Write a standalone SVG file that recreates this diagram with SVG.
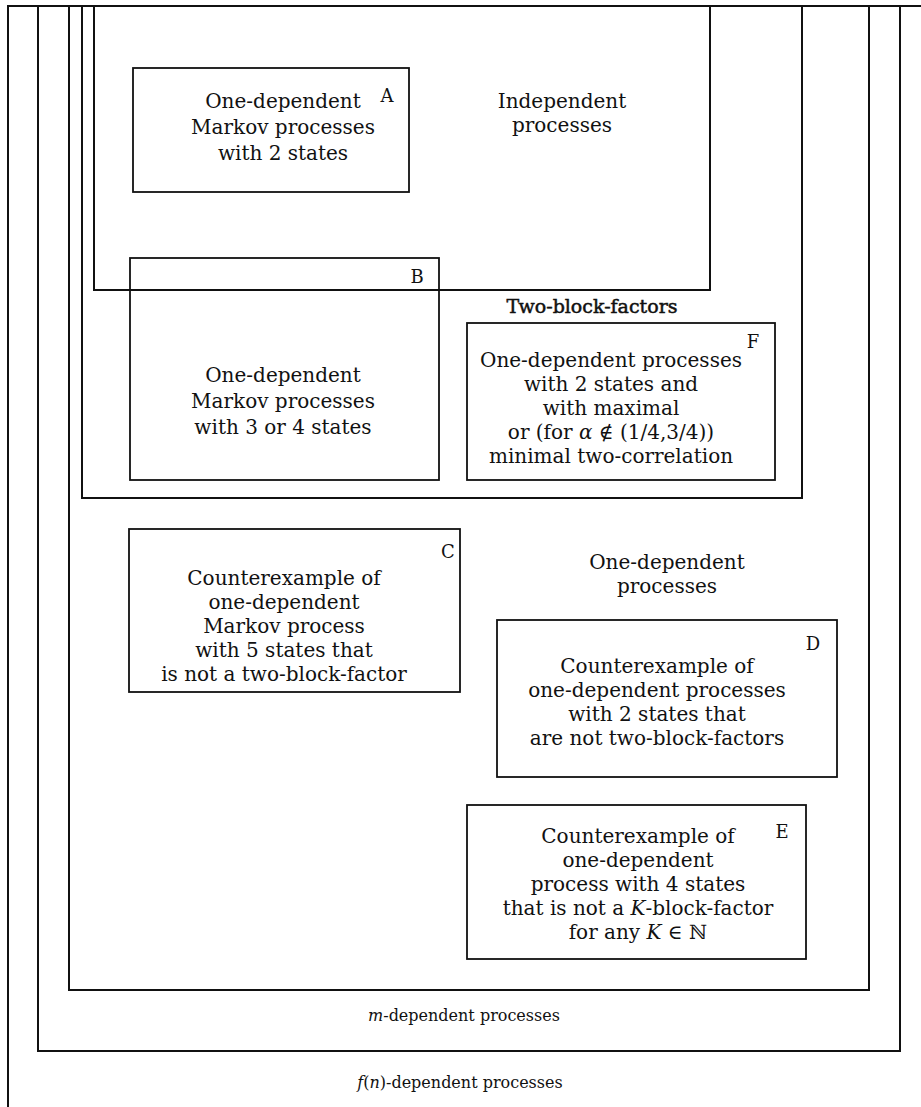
<svg xmlns="http://www.w3.org/2000/svg" width="921" height="1107" viewBox="0 0 921 1107">
<style>
.c{fill:none;stroke:#111;stroke-width:2}
.b{fill:none;stroke:#111;stroke-width:1.8}
text{font-family:"DejaVu Serif","Liberation Serif",serif;fill:#111;text-anchor:middle}
.t{font-size:20px}
.l{font-size:18px}
.s{font-size:16px}
.i{font-style:italic}
</style>
<rect width="921" height="1107" fill="#fff"/>
<g id="f-dependent">
<path class="c" d="M8,1107 V6 H921"/>
<text class="s" x="460" y="1088"><tspan class="i">f</tspan>(<tspan class="i">n</tspan>)-dependent processes</text>
</g>
<g id="m-dependent">
<path class="c" d="M38,6 V1051 H900 V6"/>
<text class="s" x="464" y="1021"><tspan class="i">m</tspan>-dependent processes</text>
</g>
<g id="one-dependent">
<path class="c" d="M69,6 V990 H869 V6"/>
<text class="t" x="667" y="569">One-dependent</text>
<text class="t" x="667" y="593">processes</text>
</g>
<g id="two-block-factors">
<path class="c" d="M82,6 V498 H802 V6"/>
<text x="592" y="313" style="font-size:19px;stroke:#111;stroke-width:0.5">Two-block-factors</text>
</g>
<g id="independent">
<path class="c" d="M94,6 V290 H710 V6"/>
<text class="t" x="562" y="108">Independent</text>
<text class="t" x="562" y="132">processes</text>
</g>
<g id="A">
<rect class="b" x="133" y="68" width="276" height="124"/>
<text class="l" x="387" y="102">A</text>
<text class="t" x="283" y="108">One-dependent</text>
<text class="t" x="283" y="134">Markov processes</text>
<text class="t" x="283" y="160">with 2 states</text>
</g>
<g id="B">
<rect class="b" x="130" y="258" width="309" height="222"/>
<text class="l" x="417" y="283">B</text>
<text class="t" x="283" y="382">One-dependent</text>
<text class="t" x="283" y="408">Markov processes</text>
<text class="t" x="283" y="434">with 3 or 4 states</text>
</g>
<g id="F">
<rect class="b" x="467" y="323" width="308" height="157"/>
<text class="l" x="753" y="348">F</text>
<text class="t" x="611" y="367">One-dependent processes</text>
<text class="t" x="611" y="391">with 2 states and</text>
<text class="t" x="611" y="415">with maximal</text>
<text class="t" x="611" y="439">or (for <tspan class="i">α</tspan> ∉ (1/4,3/4))</text>
<text class="t" x="611" y="463">minimal two-correlation</text>
</g>
<g id="C">
<rect class="b" x="129" y="529" width="331" height="163"/>
<text class="l" x="448" y="558">C</text>
<text class="t" x="284" y="585">Counterexample of</text>
<text class="t" x="284" y="609">one-dependent</text>
<text class="t" x="284" y="633">Markov process</text>
<text class="t" x="284" y="657">with 5 states that</text>
<text class="t" x="284" y="681">is not a two-block-factor</text>
</g>
<g id="D">
<rect class="b" x="497" y="620" width="340" height="157"/>
<text class="l" x="813" y="650">D</text>
<text class="t" x="657" y="673">Counterexample of</text>
<text class="t" x="657" y="697">one-dependent processes</text>
<text class="t" x="657" y="721">with 2 states that</text>
<text class="t" x="657" y="745">are not two-block-factors</text>
</g>
<g id="E">
<rect class="b" x="467" y="805" width="339" height="154"/>
<text class="l" x="782" y="838">E</text>
<text class="t" x="638" y="843">Counterexample of</text>
<text class="t" x="638" y="867">one-dependent</text>
<text class="t" x="638" y="891">process with 4 states</text>
<text class="t" x="638" y="915">that is not a <tspan class="i">K</tspan>-block-factor</text>
<text class="t" x="638" y="939">for any <tspan class="i">K</tspan> ∈ ℕ</text>
</g>
<g id="connectors"></g>
</svg>
